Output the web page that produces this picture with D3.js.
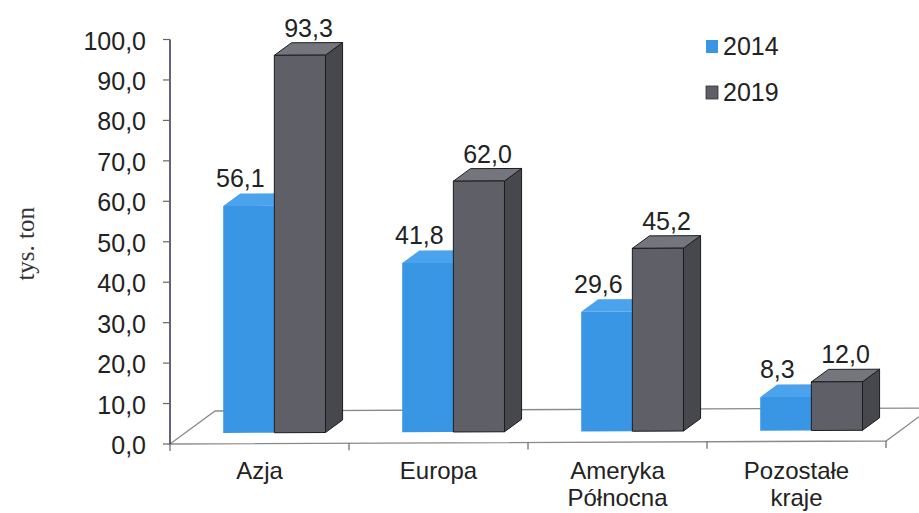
<!DOCTYPE html>
<html>
<head>
<meta charset="utf-8">
<script src="https://cdn.jsdelivr.net/npm/d3@7"></script>
<style>
  body { margin: 0; background: #fff; }
  text { font-family: "Liberation Sans", Arial, sans-serif; fill: #222; }
</style>
</head>
<body>
<svg id="chart" width="919" height="513"></svg>
<script>
// Data
const categories = ["Azja", "Europa", "Ameryka Północna", "Pozostałe kraje"];
const series = ["2014", "2019"];
const values2014 = [56.1, 41.8, 29.6, 8.3];
const values2019 = [93.3, 62.0, 45.2, 12.0];
const yTicks = [0, 10, 20, 30, 40, 50, 60, 70, 80, 90, 100];
const yTitle = "tys. ton";

const seriesValues = [values2014, values2019];
const colors = [
  { front: "#3896e4", top: "#4aa3ec", side: "#2b80c9", stroke: "none" },
  { front: "#5f6067", top: "#75767d", side: "#47484d", stroke: "#1c1c20" }
];

const svg = d3.select("#chart");
const fmt = v => d3.format(".1f")(v).replace(".", ",");

// Scales: front plane of the floor, value axis, and a depth projection
const x0 = d3.scaleBand().domain(categories).range([170, 886]);
const x1 = d3.scaleBand().domain(series).range([0, x0.bandwidth()])
  .paddingInner(0).paddingOuter(0.75);
const y = d3.scaleLinear().domain([0, 100]).range([444, 39.5]);
const depthX = d3.scaleLinear().domain([0, 1]).range([0, 45]);
const depthY = d3.scaleLinear().domain([0, 1]).range([0, -33]);
const tilt = d3.scaleLinear().domain([170, 886]).range([0, -3]);

// Project a point given its front-plane x, value and depth (0 = front, 1 = back)
function P(px, v, z) {
  return [px + depthX(z), y(v) + depthY(z) + tilt(px)];
}
const poly = pts => "M" + pts.map(p => p.join(",")).join("L") + "Z";

const zFront = 0.33, zBack = 0.71;

// Floor
const fl = x0.range();
const floorG = svg.append("g");
floorG.append("path")
  .attr("d", poly([P(fl[0], 0, 0), P(fl[1], 0, 0), P(fl[1], 0, 1), P(fl[0], 0, 1)]))
  .attr("fill", "none").attr("stroke", "#8a8a8a").attr("stroke-width", 1.3);

// Category ticks along the front edge of the floor
const tickXs = categories.map(c => x0(c)).concat([fl[1]]);
floorG.selectAll("line.xt").data(tickXs).join("line")
  .attr("x1", d => P(d, 0, 0)[0]).attr("x2", d => P(d, 0, 0)[0])
  .attr("y1", d => P(d, 0, 0)[1]).attr("y2", d => P(d, 0, 0)[1] + 7)
  .attr("stroke", "#666").attr("stroke-width", 1.2);

// Bars
const barsG = svg.append("g");
categories.forEach((c, ci) => {
  series.forEach((s, si) => {
    const v = seriesValues[si][ci];
    const xl = x0(c) + x1(s), xr = xl + x1.bandwidth();
    const col = colors[si];
    const g = barsG.append("g");
    g.append("path")
      .attr("d", poly([P(xr, 0, zFront), P(xr, 0, zBack), P(xr, v, zBack), P(xr, v, zFront)]))
      .attr("fill", col.side).attr("stroke", col.stroke).attr("stroke-width", 1);
    g.append("path")
      .attr("d", poly([P(xl, v, zFront), P(xr, v, zFront), P(xr, v, zBack), P(xl, v, zBack)]))
      .attr("fill", col.top).attr("stroke", col.stroke).attr("stroke-width", 1);
    g.append("path")
      .attr("d", poly([P(xl, 0, zFront), P(xr, 0, zFront), P(xr, v, zFront), P(xl, v, zFront)]))
      .attr("fill", col.front).attr("stroke", col.stroke).attr("stroke-width", 1);
  });
});

// Value labels above the bar tops
const labelG = svg.append("g");
categories.forEach((c, ci) => {
  series.forEach((s, si) => {
    const v = seriesValues[si][ci];
    const xc = x0(c) + x1(s) + x1.bandwidth() / 2;
    const top = P(xc, v, (zFront + zBack) / 2);
    const back = P(xc, v, zBack);
    labelG.append("text")
      .attr("x", top[0] + (si === 0 ? -17 : 0))
      .attr("y", back[1] - 6)
      .attr("text-anchor", "middle")
      .attr("font-size", 25)
      .text(fmt(v));
  });
});

// Value axis
const axG = svg.append("g");
axG.append("line")
  .attr("x1", 170).attr("x2", 170).attr("y1", y(0)).attr("y2", y(100))
  .attr("stroke", "#3c3c5a").attr("stroke-width", 1.6);
axG.selectAll("line.yt").data(yTicks).join("line")
  .attr("x1", 163).attr("x2", 170).attr("y1", d => y(d)).attr("y2", d => y(d))
  .attr("stroke", "#666").attr("stroke-width", 1.2);
axG.selectAll("text.yl").data(yTicks).join("text")
  .attr("x", 146).attr("y", d => y(d) + 10)
  .attr("text-anchor", "end").attr("font-size", 25)
  .text(d => fmt(d));

// Axis title
svg.append("text")
  .attr("transform", "translate(34," + y(49.5) + ") rotate(-90)")
  .attr("text-anchor", "middle")
  .attr("font-size", 25)
  .style("font-family", "'Liberation Serif', 'Times New Roman', serif")
  .style("fill", "#333")
  .text(yTitle);

// Category labels (wrapped on spaces)
const catG = svg.append("g");
categories.forEach(c => {
  const t = catG.append("text")
    .attr("x", x0(c) + x0.bandwidth() / 2)
    .attr("y", 479)
    .attr("text-anchor", "middle")
    .attr("font-size", 24);
  c.split(" ").forEach((w, i) => {
    t.append("tspan").attr("x", x0(c) + x0.bandwidth() / 2)
      .attr("dy", i === 0 ? 0 : 27).text(w);
  });
});

// Legend
const legG = svg.append("g").attr("transform", "translate(706,40)");
series.forEach((s, i) => {
  legG.append("rect")
    .attr("x", 0).attr("y", i * 46).attr("width", 12).attr("height", 13)
    .attr("fill", colors[i].front)
    .attr("stroke", colors[i].stroke === "none" ? "none" : "#333").attr("stroke-width", 0.8);
  legG.append("text")
    .attr("x", 17).attr("y", i * 46 + 15)
    .attr("font-size", 25)
    .text(s);
});
</script>
</body>
</html>
